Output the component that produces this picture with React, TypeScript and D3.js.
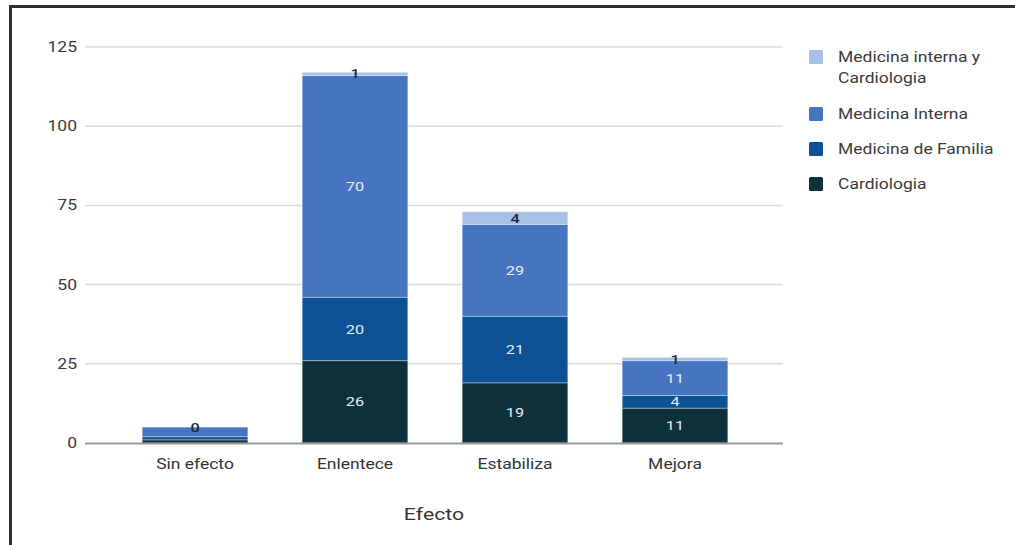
import React from "react";
import * as d3 from "d3";

const categories = ["Sin efecto", "Enlentece", "Estabiliza", "Mejora"];
const seriesNames = ["Cardiologia", "Medicina de Familia", "Medicina Interna", "Medicina interna y Cardiologia"];
const cardiologia = [1, 26, 19, 11];
const medicinaFamilia = [1, 20, 21, 4];
const medicinaInterna = [3, 70, 29, 11];
const medicinaInternaCardiologia = [0, 1, 4, 1];
const yTicks = [0, 25, 50, 75, 100, 125];
const legendOrder = ["Medicina interna y Cardiologia", "Medicina Interna", "Medicina de Familia", "Cardiologia"];
const legendLines: Record<string, string[]> = {
  "Medicina interna y Cardiologia": ["Medicina interna y", "Cardiologia"],
  "Medicina Interna": ["Medicina Interna"],
  "Medicina de Familia": ["Medicina de Familia"],
  "Cardiologia": ["Cardiologia"],
};
const colors: Record<string, string> = {
  "Cardiologia": "#0f323a",
  "Medicina de Familia": "#0c5196",
  "Medicina Interna": "#4674c0",
  "Medicina interna y Cardiologia": "#a6c0e6",
};

const W = 1015, H = 545;
const font = "Roboto, Arial, sans-serif";
const SX = 1.25;

function T(props: { x: number; y: number; anchor?: string; size: number; fill: string; weight?: number; children: any }) {
  return (
    <text transform={`translate(${props.x},${props.y}) scale(${SX},1)`} dy="0.35em"
      textAnchor={props.anchor || "start"} fontSize={props.size} fill={props.fill} fontWeight={props.weight || 400}>
      {props.children}
    </text>
  );
}

export default function App() {
  const rows = categories.map((c, i) => ({
    cat: c,
    "Cardiologia": cardiologia[i],
    "Medicina de Familia": medicinaFamilia[i],
    "Medicina Interna": medicinaInterna[i],
    "Medicina interna y Cardiologia": medicinaInternaCardiologia[i],
  }));
  const stack = d3.stack<any>().keys(seriesNames)(rows);
  const x = d3.scaleBand().domain(categories).range([115, 755]).paddingInner(0.34).paddingOuter(0.17);
  const y = d3.scaleLinear().domain([0, 125]).range([443, 47]);
  const topKey = seriesNames[seriesNames.length - 1];

  return (
    <svg width={W} height={H} style={{ position: "absolute", left: 0, top: 0, background: "#fff" }} fontFamily={font}>
      <rect x={0} y={0} width={W} height={H} fill="#fff" />
      {/* frame */}
      <line x1={9} x2={W} y1={6.5} y2={6.5} stroke="#2e2f28" strokeWidth={3} />
      <line x1={10.5} x2={10.5} y1={5} y2={H} stroke="#2e2f28" strokeWidth={3} />
      {/* grid */}
      {yTicks.map((t) => (
        <g key={t}>
          {t !== 0 && <line x1={85} x2={783} y1={y(t)} y2={y(t)} stroke="#dcdcdc" strokeWidth={1.5} />}
          <T x={77} y={y(t)} anchor="end" size={14} fill="#3a3a3a">{t}</T>
        </g>
      ))}
      {/* bars */}
      {stack.map((s) => (
        <g key={s.key}>
          {s.map((d, i) => {
            const y0 = y(d[0]), y1 = y(d[1]);
            return (
              <rect key={i} x={x(categories[i])!} width={x.bandwidth()} y={y1} height={Math.max(0, y0 - y1)}
                fill={colors[s.key]} stroke="rgba(255,255,255,0.35)" strokeWidth={1} />
            );
          })}
        </g>
      ))}
      <line x1={85} x2={783} y1={y(0) + 0.5} y2={y(0) + 0.5} stroke="#9a9a9a" strokeWidth={2} />
      {/* value labels */}
      {stack.map((s) => (
        <g key={"l" + s.key}>
          {s.map((d, i) => {
            const v = d[1] - d[0];
            const h = y(d[0]) - y(d[1]);
            const isTop = s.key === topKey;
            if (!isTop && h < 10) return null;
            const cx = x(categories[i])! + x.bandwidth() / 2;
            const cy = (y(d[0]) + y(d[1])) / 2;
            return (
              <T key={i} x={cx} y={cy} anchor="middle" size={13}
                fill={isTop ? "#1e2a33" : "#e6edf5"} weight={isTop ? 500 : 400}>{v}</T>
            );
          })}
        </g>
      ))}
      {/* x labels */}
      {categories.map((c) => (
        <T key={c} x={x(c)! + x.bandwidth() / 2} y={464} anchor="middle" size={14} fill="#333">{c}</T>
      ))}
      <T x={434} y={514} anchor="middle" size={17} fill="#333">Efecto</T>
      {/* legend */}
      {legendOrder.map((k, i) => {
        const ys = [57, 114, 149, 184][i];
        return (
          <g key={k}>
            <rect x={809} y={ys - 7} width={14} height={14} rx={1.5} fill={colors[k]} />
            {legendLines[k].map((ln, j) => (
              <T key={j} x={838} y={ys + j * 21} size={14} fill="#3a3a3a">{ln}</T>
            ))}
          </g>
        );
      })}
    </svg>
  );
}
